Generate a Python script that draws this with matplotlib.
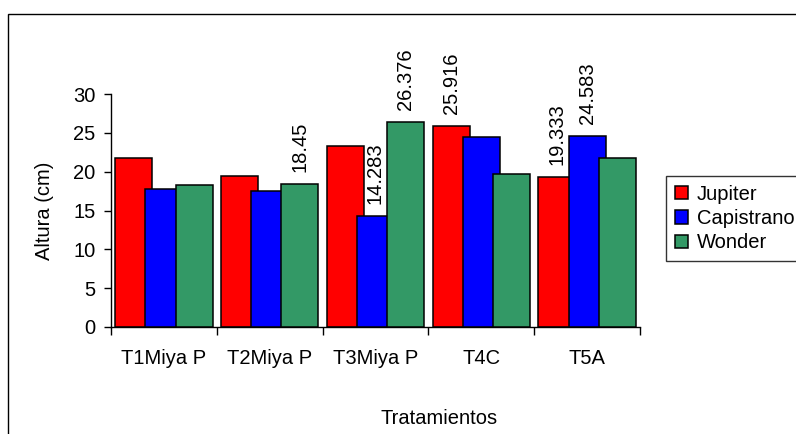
import matplotlib
matplotlib.use("Agg")
import matplotlib.pyplot as plt
import numpy as np
from matplotlib.patches import Rectangle

plt.rcParams["font.family"] = ["Liberation Sans", "DejaVu Sans"]

categories = ["T1Miya P", "T2Miya P", "T3Miya P", "T4C", "T5A"]
series_names = ["Jupiter", "Capistrano", "Wonder"]
jupiter = [21.75, 19.47, 23.25, 25.916, 19.333]
capistrano = [17.76, 17.5, 14.283, 24.5, 24.583]
wonder = [18.28, 18.45, 26.376, 19.73, 21.75]
colors = ["#FF0000", "#0000FF", "#339966"]

# which bars carry a value label: (series index, category index)
labelled = [(2, 1), (1, 2), (2, 2), (0, 3), (0, 4), (1, 4)]

FS = 14.5
W, H = 796, 434
fig = plt.figure(figsize=(W / 100, H / 100), dpi=100)
ax = fig.add_axes([111 / W, 1 - 327 / H, (640 - 111) / W, (327 - 94) / H])

x = np.arange(len(categories))
offsets = [-0.285, 0.0, 0.285]
width = 0.35
all_values = [jupiter, capistrano, wonder]
for i, (name, vals) in enumerate(zip(series_names, all_values)):
    ax.bar(x + offsets[i], vals, width, color=colors[i], edgecolor="black",
           linewidth=1.1, label=name, zorder=2 + i)

for si, ci in labelled:
    v = all_values[si][ci]
    ax.annotate(f"{v:g}", (x[ci] + offsets[si], v), xytext=(0, 8.5),
                textcoords="offset points", rotation=90, ha="center",
                va="bottom", fontsize=FS, annotation_clip=False)

ax.set_xlim(-0.5, len(categories) - 0.5)
ax.set_ylim(0, 30)
ax.set_yticks(range(0, 31, 5))
ax.tick_params(axis="y", labelsize=FS, length=5, width=1, pad=6)
ax.set_xticks(x)
ax.set_xticklabels(categories)
ax.set_xticks(np.arange(-0.5, len(categories), 1), minor=True)
ax.tick_params(axis="x", which="major", length=0, labelsize=FS, pad=16)
ax.tick_params(axis="x", which="minor", length=6, width=1)
for s in ["top", "right"]:
    ax.spines[s].set_visible(False)
for s in ["left", "bottom"]:
    ax.spines[s].set_linewidth(1)

fig.text(45 / W, 1 - 211 / H, "Altura (cm)", rotation=90, ha="center",
         va="center", fontsize=FS)
fig.text(439 / W, 1 - 418 / H, "Tratamientos", ha="center", va="center",
         fontsize=FS)

leg = fig.legend(loc="upper left", bbox_to_anchor=(666 / W, 1 - 176 / H),
                 fontsize=FS, frameon=True, fancybox=False, edgecolor="black",
                 handlelength=0.62, handleheight=0.62, handletextpad=0.45,
                 labelspacing=0.25, borderpad=0.45, borderaxespad=0)
leg.get_frame().set_linewidth(1)

fig.patches.append(Rectangle((8 / W, -0.1), 1.0, 1 - 14 / H + 0.1,
                             transform=fig.transFigure, fill=False,
                             edgecolor="black", linewidth=1))

fig.savefig("out.png", dpi=100)
